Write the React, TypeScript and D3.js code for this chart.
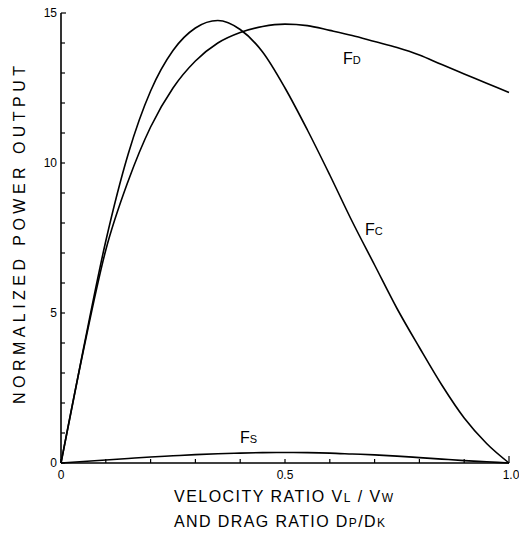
import React from "react";
import * as d3 from "d3";

const xVals = [0, 0.05, 0.1, 0.15, 0.2, 0.25, 0.3, 0.35, 0.4, 0.45, 0.5, 0.55, 0.6, 0.65, 0.7, 0.75, 0.8, 0.85, 0.9, 0.95, 1.0];
const fcVals = [0, 3.8, 7.4, 10.3, 12.4, 13.75, 14.5, 14.75, 14.45, 13.7, 12.5, 11.1, 9.6, 8.05, 6.6, 5.15, 3.85, 2.6, 1.5, 0.65, 0];
const fdVals = [0, 3.75, 7.1, 9.4, 11.2, 12.5, 13.4, 14.0, 14.35, 14.55, 14.63, 14.58, 14.42, 14.25, 14.05, 13.85, 13.6, 13.28, 12.97, 12.66, 12.35];
const fsVals = [0, 0.05, 0.1, 0.15, 0.2, 0.24, 0.28, 0.31, 0.33, 0.345, 0.35, 0.345, 0.33, 0.3, 0.27, 0.23, 0.18, 0.13, 0.08, 0.04, 0];

const yTickLabels = ["0", "5", "10", "15"];
const xTickLabels = ["0", "0.5", "1.0"];

export default function App() {
  const W = 519, H = 535;
  const x = d3.scaleLinear().domain([0, 1]).range([61, 509]);
  const y = d3.scaleLinear().domain([0, 15]).range([463, 13]);
  const line = d3
    .line<number>()
    .x((_, i) => x(xVals[i]))
    .y((d) => y(d))
    .curve(d3.curveMonotoneX);

  const font = "'Liberation Sans', Arial, sans-serif";
  const yMinor = d3.range(0, 16, 1);
  const xMinor = d3.range(0, 11, 1).map((v) => v / 10);

  return (
    <svg
      width={W}
      height={H}
      style={{ position: "absolute", left: 0, top: 0, background: "#fff" }}
      fontFamily={font}
    >
      {/* axes */}
      <line x1={x(0)} x2={x(0)} y1={y(0)} y2={y(15)} stroke="#000" strokeWidth={1.6} />
      <line x1={x(0)} x2={x(1)} y1={y(0)} y2={y(0)} stroke="#000" strokeWidth={1.6} />
      {yMinor.map((v) => (
        <line key={"yt" + v} x1={x(0)} x2={x(0) + (v === 15 ? 5 : 4)} y1={y(v)} y2={y(v)} stroke="#000" strokeWidth={1.2} />
      ))}
      {xMinor.map((v) => (
        <line key={"xt" + v} x1={x(v)} x2={x(v)} y1={y(0)} y2={y(0) - (v === 1 ? 7 : 4)} stroke="#000" strokeWidth={1.2} />
      ))}
      {yTickLabels.map((t) => (
        <text key={"yl" + t} x={x(0) - 4} y={y(+t) + 4} textAnchor="end" fontSize={12}>
          {t}
        </text>
      ))}
      {xTickLabels.map((t, i) => (
        <text
          key={"xl" + t}
          x={x(+t) + (i === 2 ? 2 : 0)}
          y={479}
          textAnchor="middle"
          fontSize={12}
        >
          {t}
        </text>
      ))}

      {/* curves */}
      <path d={line(fcVals) || ""} fill="none" stroke="#000" strokeWidth={1.6} />
      <path d={line(fdVals) || ""} fill="none" stroke="#000" strokeWidth={1.6} />
      <path d={line(fsVals) || ""} fill="none" stroke="#000" strokeWidth={1.6} />

      {/* curve labels */}
      <text x={343} y={64} fontSize={16}>
        F<tspan fontSize={11}>D</tspan>
      </text>
      <text x={365} y={235} fontSize={16}>
        F<tspan fontSize={11}>C</tspan>
      </text>
      <text x={240} y={443} fontSize={16}>
        F<tspan fontSize={11}>S</tspan>
      </text>

      {/* axis titles */}
      <text
        transform="translate(25,235) rotate(-90)"
        textAnchor="middle"
        fontSize={16}
        textLength={338}
        lengthAdjust="spacing"
      >
        NORMALIZED POWER OUTPUT
      </text>
      <text x={174} y={502} fontSize={16} textLength={219} lengthAdjust="spacing">
        VELOCITY RATIO V<tspan fontSize={12}>L</tspan> / V<tspan fontSize={12}>W</tspan>
      </text>
      <text x={174} y={527} fontSize={16} textLength={211} lengthAdjust="spacing">
        AND DRAG RATIO D<tspan fontSize={12}>P</tspan>/D<tspan fontSize={12}>K</tspan>
      </text>
    </svg>
  );
}
